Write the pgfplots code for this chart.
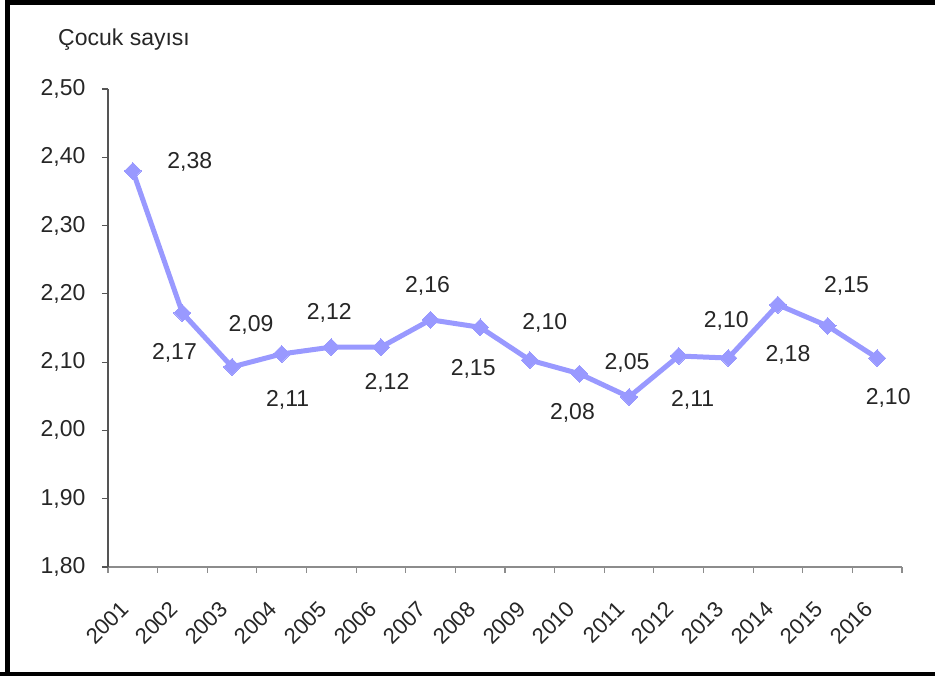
\documentclass[border=0pt]{standalone}
\usepackage{fontspec}
\setmainfont{Liberation Sans}
\usepackage{pgfplots}
\usepackage{pgfplotstable}
\pgfplotsset{compat=1.18}
\definecolor{serie}{RGB}{153,153,255}
\definecolor{yax}{RGB}{85,85,85}
\definecolor{xax}{RGB}{140,140,140}

\pgfplotstableread{
x y lab dx dy
0 2.380 2,38 57 9
1 2.172 2,17 -8 -40
2 2.093 2,09 19 42
3 2.112 2,11 6 -46
4 2.122 2,12 -2 34
5 2.122 2,12 6 -36
6 2.162 2,16 -3 34
7 2.151 2,15 -7 -42
8 2.103 2,10 15 37
9 2.083 2,08 -7 -39
10 2.049 2,05 -2 34
11 2.109 2,11 14 -44
12 2.106 2,10 -2 37
13 2.184 2,18 10 -50
14 2.153 2,15 19 40
15 2.106 2,10 11 -40
}\datatable

\begin{document}
\begin{tikzpicture}[x=1pt,y=1pt]
\useasboundingbox (0,0) rectangle (935,676);
\begin{scope}
\clip (0,0) rectangle (935,676);
\draw[line width=5pt] (7.5,-10) -- (7.5,673) -- (945,673);
\draw[line width=4pt] (0,2) -- (945,2);
\end{scope}
\node[anchor=base west, font=\fontsize{23}{27}\selectfont, inner sep=0pt, text=black!85] at (58,630) {Çocuk sayısı};
\begin{axis}[
  at={(108pt,109pt)}, anchor=south west,
  scale only axis, width=794pt, height=478pt,
  xmin=-0.5, xmax=15.5, ymin=1.8, ymax=2.5,
  axis x line=bottom, axis y line=left,
  axis line style={-},
  x axis line style={draw=xax, line width=1.5pt},
  y axis line style={draw=yax, line width=1.5pt},
  tick align=outside,
  xtick={0,...,15},
  xticklabels={2001,2002,2003,2004,2005,2006,2007,2008,2009,2010,2011,2012,2013,2014,2015,2016},
  minor xtick={-0.5,0.5,...,15.5},
  major x tick style={draw=none},
  minor x tick style={draw=xax, line width=1.2pt},
  minor tick length=6pt,
  major tick length=6pt,
  y tick style={draw=yax, line width=1.2pt},
  ytick={1.8,1.9,2.0,2.1,2.2,2.3,2.4,2.5},
  yticklabel style={/pgf/number format/fixed, /pgf/number format/fixed zerofill, /pgf/number format/precision=2, /pgf/number format/use comma, /pgf/number format/assume math mode=true},
  yticklabel style={xshift=-13pt, text=black!85, font=\fontsize{23}{27}\selectfont},
  xticklabel style={yshift=-30pt, xshift=-6pt, rotate=45, anchor=east, text=black!85, font=\fontsize{22}{26}\selectfont},
  clip=false,
]
\addplot[color=serie, line width=5pt, mark=square*, mark size=6pt, mark options={rotate=45, fill=serie, draw=serie, line width=0pt},
  point meta=explicit symbolic,
  visualization depends on={\thisrow{dx} \as \dx},
  visualization depends on={\thisrow{dy} \as \dy},
  nodes near coords,
  every node near coord/.append style={rotate=0, anchor=center, xshift=\dx pt, yshift=\dy pt, text=black!85, font=\fontsize{23}{27}\selectfont}
] table[x=x, y=y, meta=lab] {\datatable};
\end{axis}
\end{tikzpicture}
\end{document}
